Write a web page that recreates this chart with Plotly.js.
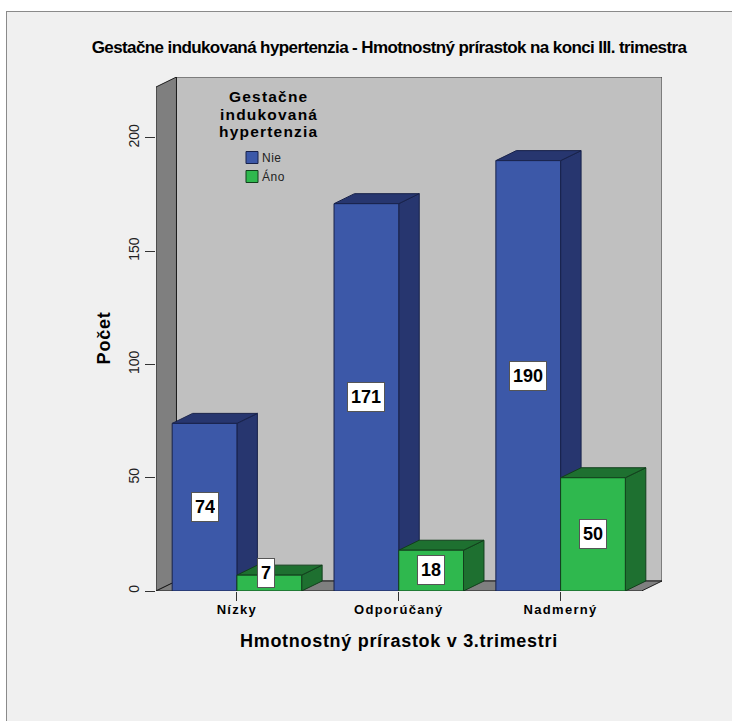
<!DOCTYPE html>
<html>
<head>
<meta charset="utf-8">
<script src="https://cdn.plot.ly/plotly-3.0.1.min.js"></script>
<style>
  html, body { margin: 0; padding: 0; background: #ffffff; }
  #panel { position: absolute; left: 6px; top: 11px; width: 726px; height: 710px;
           box-sizing: border-box; background: #f0f0f0;
           border-left: 1px solid #8a8a8a; border-top: 1px solid #8a8a8a; }
  #chart { position: absolute; left: 0; top: 0; width: 732px; height: 721px; }
  /* wider bold lettering on the category labels, tighter on the chart title */
  #chart .xtick text { letter-spacing: 1.3px; }
  #chart .gtitle { letter-spacing: -0.6px; }
  #chart .legendtext { letter-spacing: 0.5px; }
  /* pull the legend swatches up against their labels */
  #chart .legend .legendpoints { transform: translateX(10px); }
</style>
</head>
<body>
<div id="panel"></div>
<div id="chart"></div>
<script>
const categories = ['Nízky', 'Odporúčaný', 'Nadmerný'];
const positions = [0, 1, 2];
const nie = [74, 171, 190];
const ano = [7, 18, 50];
const yTicks = [0, 50, 100, 150, 200];
const legendHeading = ['Gestačne', 'indukovaná', 'hypertenzia'];

const BAR_HALF = 0.4;              // half of a category's pair of bars
const DEPTH_X = 20.5 / 162;        // receding depth, in category units
const DEPTH_Y = 10 / 2.265;        // receding depth, in count units
const WALL_TOP = 222.5;            // front top edge of the side wall
const X_MIN = -0.5, X_MAX = 2.5;

const EDGE = '#1c1c1c';
const BLUE = '#3c58a8', BLUE_DARK = '#27366f', BLUE_EDGE = '#18224a';
const GREEN = '#2fb84e', GREEN_DARK = '#1e7030', GREEN_EDGE = '#123f1c';
const SANS = 'Liberation Sans, Arial, sans-serif';

function poly(points, fill, line) {
  return {
    type: 'path', layer: 'below', xref: 'x', yref: 'y',
    path: 'M' + points.map(p => p[0] + ',' + p[1]).join('L') + 'Z',
    fillcolor: fill, line: { color: line, width: 1 }
  };
}

function box3d(x0, x1, v, dark, edge) {
  return [
    poly([[x1, 0], [x1 + DEPTH_X, DEPTH_Y], [x1 + DEPTH_X, v + DEPTH_Y], [x1, v]], dark, edge),
    poly([[x0, v], [x0 + DEPTH_X, v + DEPTH_Y], [x1 + DEPTH_X, v + DEPTH_Y], [x1, v]], dark, edge)
  ];
}

function spaced(text, px) {
  return '<span style="letter-spacing:' + px + 'px">' + text + '</span>';
}

// Room: back wall, left wall and floor behind the bars
const shapes = [
  poly([[X_MIN + DEPTH_X, DEPTH_Y], [X_MAX + DEPTH_X, DEPTH_Y],
        [X_MAX + DEPTH_X, WALL_TOP + DEPTH_Y], [X_MIN + DEPTH_X, WALL_TOP + DEPTH_Y]], '#c0c0c0', '#3a3a3a'),
  poly([[X_MIN, 0], [X_MIN + DEPTH_X, DEPTH_Y],
        [X_MIN + DEPTH_X, WALL_TOP + DEPTH_Y], [X_MIN, WALL_TOP]], '#7f7f7f', EDGE),
  poly([[X_MIN, 0], [X_MAX, 0], [X_MAX + DEPTH_X, DEPTH_Y], [X_MIN + DEPTH_X, DEPTH_Y]], '#7f7f7f', EDGE)
];

positions.forEach((p, i) => {
  shapes.push(...box3d(p - BAR_HALF, p, nie[i], BLUE_DARK, BLUE_EDGE));
  shapes.push(...box3d(p, p + BAR_HALF, ano[i], GREEN_DARK, GREEN_EDGE));
});

function valueLabel(x, v) {
  const small = v < 10;
  return {
    x: x, y: v / 2, xref: 'x', yref: 'y', text: String(v), showarrow: false,
    yshift: small ? 10 : (v < 20 ? 1 : 0), xshift: small ? -3 : 0,
    font: { family: SANS, size: 18, color: '#000000', weight: 700 },
    bgcolor: '#ffffff', bordercolor: '#555555', borderwidth: 1, borderpad: 3, height: 22
  };
}

const annotations = [];
positions.forEach((p, i) => {
  annotations.push(valueLabel(p - BAR_HALF / 2, nie[i]));
  annotations.push(valueLabel(p + BAR_HALF / 2, ano[i]));
});

// Axis titles, centred on the front plane rather than on the whole room
annotations.push({
  xref: 'x', yref: 'paper', x: 1, y: 0, yshift: -50, yanchor: 'middle', showarrow: false,
  text: spaced('Hmotnostný prírastok v 3.trimestri', 0.7),
  font: { family: SANS, size: 18, color: '#000000', weight: 700 }
});
annotations.push({
  xref: 'paper', yref: 'y', x: 0, y: 111.5, xshift: -52, xanchor: 'center', yanchor: 'middle',
  showarrow: false, textangle: -90,
  text: spaced('Počet', 0.8),
  font: { family: SANS, size: 18, color: '#000000', weight: 700 }
});

// Legend heading sits centred above the entries, one annotation per line
legendHeading.forEach((line, i) => {
  annotations.push({
    xref: 'paper', yref: 'paper', x: (268.5 - 156) / 506, y: 1 - (97 + i * 17.5 - 77) / 514,
    xanchor: 'center', yanchor: 'middle', showarrow: false,
    text: spaced(line, 1.2),
    font: { family: SANS, size: 15.5, color: '#000000', weight: 700 }
  });
});

const traces = [
  { type: 'bar', name: 'Nie', x: positions, y: nie,
    marker: { color: BLUE, line: { color: BLUE_EDGE, width: 1 } }, hoverinfo: 'skip' },
  { type: 'bar', name: 'Áno', x: positions, y: ano,
    marker: { color: GREEN, line: { color: GREEN_EDGE, width: 1 } }, hoverinfo: 'skip' }
];

const layout = {
  width: 732, height: 721,
  paper_bgcolor: 'rgba(0,0,0,0)', plot_bgcolor: 'rgba(0,0,0,0)',
  margin: { l: 156, r: 70, t: 77, b: 130, pad: 0 },
  font: { family: SANS, color: '#111111' },
  barmode: 'group', bargap: 0.2, bargroupgap: 0,
  showlegend: true,
  title: {
    text: 'Gestačne indukovaná hypertenzia - Hmotnostný prírastok na konci III. trimestra',
    font: { family: SANS, size: 17, color: '#000000', weight: 700 },
    x: (389 - 156) / 506, xanchor: 'center', xref: 'paper', y: 1 - 47 / 721, yanchor: 'middle'
  },
  xaxis: {
    range: [X_MIN, X_MAX + DEPTH_X], tickmode: 'array', tickvals: positions, ticktext: categories,
    ticks: 'outside', ticklen: 9, tickwidth: 1, tickcolor: '#333333', ticklabelstandoff: -3,
    showgrid: false, zeroline: false, showline: false,
    tickfont: { size: 13, color: '#000000', weight: 700 }
  },
  yaxis: {
    range: [0, WALL_TOP + DEPTH_Y], tickmode: 'array', tickvals: yTicks,
    ticks: 'outside', ticklen: 10, tickwidth: 1, tickcolor: '#333333', tickangle: -90,
    showgrid: false, zeroline: false, showline: false,
    tickfont: { size: 14, color: '#222222' }
  },
  legend: {
    x: (222 - 156) / 506, y: 1 - (143 - 77) / 514, xanchor: 'left', yanchor: 'top',
    bgcolor: 'rgba(0,0,0,0)', borderwidth: 0, itemwidth: 30,
    font: { size: 12, color: '#222222' }
  },
  shapes: shapes,
  annotations: annotations
};

Plotly.newPlot('chart', traces, layout, { displayModeBar: false, staticPlot: true });
</script>
</body>
</html>
